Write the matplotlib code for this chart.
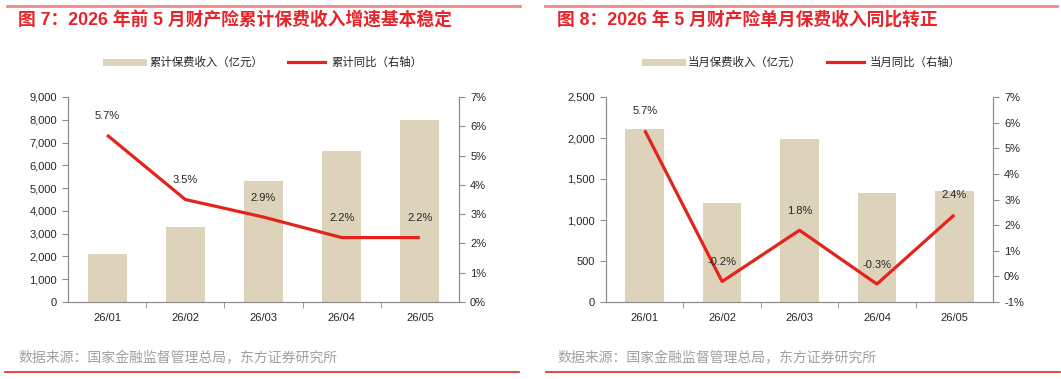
import matplotlib
matplotlib.use("Agg")
import matplotlib.pyplot as plt
from matplotlib.lines import Line2D
from matplotlib.ticker import FuncFormatter, MultipleLocator, FixedLocator

plt.rcParams['font.family'] = ['Liberation Sans', 'Noto Sans CJK SC', 'DejaVu Sans']

months = ["26/01", "26/02", "26/03", "26/04", "26/05"]
cum_premium = [2100, 3300, 5300, 6630, 7990]
cum_yoy = [5.7, 3.5, 2.9, 2.2, 2.2]
mon_premium = [2110, 1205, 1990, 1330, 1350]
mon_yoy = [5.7, -0.2, 1.8, -0.3, 2.4]

title_left = "图 7：2026 年前 5 月财产险累计保费收入增速基本稳定"
title_right = "图 8：2026 年 5 月财产险单月保费收入同比转正"
legend_left = ["累计保费收入（亿元）", "累计同比（右轴）"]
legend_right = ["当月保费收入（亿元）", "当月同比（右轴）"]
source = "数据来源：国家金融监督管理总局，东方证券研究所"

BAR = "#DDD3BB"
RED = "#E4241C"
SPINE = "#8C8C8C"
TXT = "#262626"

W, H = 1061, 379
fig = plt.figure(figsize=(W / 100, H / 100), dpi=100)


def fx(px):
    return px / W


def fy(py):
    return 1 - py / H


def panel(x0, x1, bars, yoy, ylim, ystep, rlim, title, legs, tx, line_x0, line_x1, leg_cx, src_x, bline_x0, bline_x1):
    ax = fig.add_axes([fx(x0), fy(302), fx(x1 - x0), (302 - 97) / H])
    x = list(range(len(months)))
    ax.bar(x, bars, width=0.5, color=BAR, zorder=1)
    ax.set_xlim(-0.5, len(months) - 0.5)
    ax.set_ylim(*ylim)
    ax.yaxis.set_major_locator(MultipleLocator(ystep))
    ax.yaxis.set_major_formatter(FuncFormatter(lambda v, p: f"{v:,.0f}"))
    ax.set_xticks(x)
    ax.set_xticklabels(months)
    ax.xaxis.set_minor_locator(FixedLocator([i + 0.5 for i in range(len(months) - 1)]))
    ax.tick_params(axis='x', which='major', length=0, pad=8, labelsize=8, labelcolor=TXT)
    ax.tick_params(axis='x', which='minor', length=4, color=SPINE)
    ax.tick_params(axis='y', length=4, color=SPINE, labelsize=8, labelcolor=TXT, pad=4)
    for s in ['top']:
        ax.spines[s].set_visible(False)
    for s in ['left', 'right', 'bottom']:
        ax.spines[s].set_color(SPINE)

    ax2 = ax.twinx()
    ax2.plot(x, yoy, color=RED, lw=2.3, zorder=3, solid_capstyle='butt')
    ax2.set_ylim(*rlim)
    ax2.yaxis.set_major_locator(MultipleLocator(1))
    ax2.yaxis.set_major_formatter(FuncFormatter(lambda v, p: f"{v:.0f}%"))
    ax2.tick_params(axis='y', length=4, color=SPINE, labelsize=8, labelcolor=TXT, pad=4)
    ax2.spines['top'].set_visible(False)
    for s in ['left', 'right', 'bottom']:
        ax2.spines[s].set_color(SPINE)
    for xi, v in zip(x, yoy):
        ax2.annotate(f"{v:.1f}%", (xi, v), xytext=(0, 14), textcoords='offset points',
                     ha='center', va='center', fontsize=8, color=TXT)

    # decorations
    fig.add_artist(Line2D([fx(line_x0), fx(line_x1)], [fy(6), fy(6)], color="#EE8A8A", lw=2))
    fig.text(fx(tx), fy(20), title, fontsize=12.8, color="#E8232A", fontweight='bold',
             va='center', ha='left', family=['Liberation Sans', 'Noto Sans CJK SC'])
    handles = [Line2D([], [], color=BAR, lw=5), Line2D([], [], color=RED, lw=2.3)]
    fig.legend(handles, legs, loc='center', bbox_to_anchor=(fx(leg_cx), fy(62)), ncol=2,
               frameon=False, fontsize=8.2, handlelength=3.3, columnspacing=2.2, handletextpad=0.5,
               labelcolor=TXT)
    fig.text(fx(src_x), fy(358), source, fontsize=10, color="#A0A0A0", va='center', ha='left')
    fig.add_artist(Line2D([fx(bline_x0), fx(bline_x1)], [fy(372), fy(372)], color=RED, lw=1.2))


panel(68, 459, cum_premium, cum_yoy, (0, 9000), 1000, (0, 7), title_left, legend_left,
      18, 7, 520, 264, 18, 5, 519)
panel(606, 993, mon_premium, mon_yoy, (0, 2500), 500, (-1, 7), title_right, legend_right,
      557, 545, 1057, 803, 557, 546, 1060)

fig.savefig("out.png", dpi=100)
